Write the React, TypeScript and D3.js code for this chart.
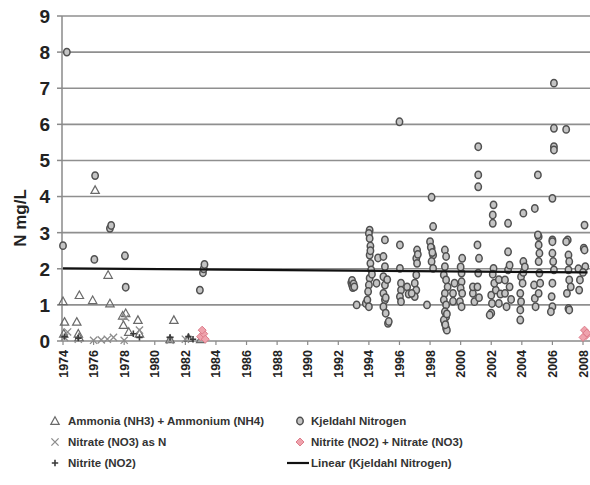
import React from "react";
import * as d3 from "d3";

const yTicks = [0, 1, 2, 3, 4, 5, 6, 7, 8, 9];
const xTickYears = d3.range(1974, 2009, 2);

const kjeldahl: [number, number][] = [
  [1974.0, 2.64], [1974.25, 8.0], [1976.05, 2.26], [1976.1, 4.58], [1977.07, 3.12], [1977.15, 3.2],
  [1978.05, 2.36], [1978.1, 1.49], [1982.95, 1.41], [1983.15, 1.89], [1983.2, 2.0], [1983.25, 2.12],
  [1992.85, 1.62], [1992.9, 1.55], [1992.95, 1.48], [1992.9, 1.68], [1993.0, 1.58], [1993.05, 1.5],
  [1993.2, 1.0], [1993.8, 1.04],
  [1994.05, 3.07], [1994.0, 2.98], [1994.05, 2.84], [1994.1, 2.63], [1994.05, 2.38], [1994.1, 2.15],
  [1994.15, 1.97], [1994.05, 1.74], [1994.0, 1.55], [1993.95, 1.37], [1993.9, 1.14], [1994.0, 0.95],
  [1994.1, 2.5], [1994.2, 1.85], [1994.6, 2.3], [1994.5, 1.6],
  [1995.05, 2.8], [1994.95, 2.34], [1995.05, 2.06], [1994.95, 1.78], [1995.05, 1.55], [1994.95, 1.32],
  [1995.05, 1.14], [1994.95, 0.95], [1995.1, 0.77], [1995.25, 0.49], [1995.3, 0.54], [1995.1, 1.2], [1995.2, 1.7],
  [1996.0, 6.07], [1996.03, 2.66], [1996.03, 2.01], [1996.1, 1.6], [1996.1, 1.41], [1996.03, 1.23], [1996.1, 1.09],
  [1996.5, 1.5], [1996.6, 1.3],
  [1997.15, 2.52], [1997.1, 2.29], [1997.15, 2.15], [1997.1, 1.83], [1997.0, 1.6], [1997.1, 1.41],
  [1997.0, 1.23], [1996.8, 1.32], [1997.2, 2.4], [1997.8, 1.0],
  [1998.1, 3.98], [1998.2, 3.17], [1998.0, 2.75], [1998.1, 2.57], [1998.2, 2.38], [1998.1, 2.2],
  [1998.2, 2.01], [1998.05, 2.6], [1998.15, 2.45],
  [1998.97, 2.52], [1999.05, 2.34], [1998.97, 2.06], [1998.9, 1.83], [1999.05, 1.69], [1999.15, 1.5],
  [1998.97, 1.32], [1998.9, 1.14], [1999.05, 1.0], [1998.97, 0.81], [1999.05, 0.67], [1998.97, 0.49],
  [1999.05, 0.35], [1998.9, 0.58], [1999.1, 0.3], [1999.0, 0.45], [1999.1, 0.75],
  [1999.5, 1.32], [1999.6, 1.6], [1999.5, 1.1],
  [2000.1, 2.29], [2000.06, 1.88], [2000.06, 1.64], [2000.0, 1.46], [2000.1, 1.32], [1999.95, 1.09],
  [2000.06, 0.95], [2000.0, 2.05],
  [2000.8, 1.32], [2000.9, 1.09], [2000.8, 1.5],
  [2001.15, 5.38], [2001.15, 4.6], [2001.15, 4.27], [2001.1, 2.66], [2001.2, 2.29], [2001.15, 1.88],
  [2001.1, 1.5], [2001.2, 1.2],
  [2002.15, 3.77], [2002.1, 3.49], [2002.1, 3.26], [2002.15, 2.01], [2002.0, 1.27], [2002.05, 1.04],
  [2002.0, 0.77], [2001.9, 0.72], [2002.3, 1.41], [2002.2, 1.6], [2002.1, 1.85],
  [2002.5, 1.04], [2002.6, 1.3], [2002.5, 1.7],
  [2003.1, 3.26], [2003.1, 2.47], [2003.1, 1.97], [2002.9, 1.69], [2002.9, 1.32], [2003.0, 0.95],
  [2003.2, 2.1], [2003.2, 1.5], [2003.3, 1.15],
  [2004.1, 3.54], [2004.1, 2.2], [2003.95, 1.78], [2004.05, 1.6], [2003.9, 1.32], [2003.95, 1.09],
  [2003.9, 0.86], [2003.9, 0.58], [2004.1, 1.9], [2004.2, 2.05],
  [2004.85, 3.67], [2004.85, 1.18], [2004.9, 0.95], [2004.8, 1.55],
  [2005.05, 4.6], [2005.1, 2.89], [2005.1, 2.66], [2005.15, 2.43], [2005.1, 2.2], [2005.15, 1.88],
  [2005.2, 1.6], [2005.1, 1.32], [2005.05, 2.94],
  [2006.1, 7.14], [2006.1, 5.89], [2006.1, 5.38], [2006.1, 5.29], [2006.0, 3.95], [2006.0, 2.8],
  [2006.0, 2.43], [2006.05, 2.2], [2006.1, 1.97], [2006.0, 1.6], [2005.95, 1.23], [2006.0, 0.95],
  [2006.0, 2.75], [2005.9, 0.81],
  [2006.9, 5.86], [2007.0, 2.8], [2007.05, 2.38], [2007.1, 2.2], [2007.05, 1.97], [2007.1, 1.69],
  [2006.95, 1.32], [2007.05, 0.9], [2006.9, 2.75], [2007.1, 0.86], [2007.2, 1.5],
  [2007.8, 1.69], [2007.75, 1.41], [2007.7, 2.0],
  [2008.1, 3.21], [2008.05, 2.57], [2008.1, 2.52], [2008.15, 2.06], [2008.0, 1.9]
];

const ammonia: [number, number][] = [
  [1974.0, 1.1], [1974.1, 0.53], [1974.9, 0.53], [1975.07, 1.27], [1975.94, 1.13], [1976.1, 4.18],
  [1977.07, 1.04], [1976.95, 1.83], [1977.95, 0.44], [1978.1, 0.77], [1978.9, 0.58], [1981.25, 0.58],
  [1974.05, 0.2], [1975.0, 0.2], [1975.05, 0.1], [1978.3, 0.25], [1981.0, 0.05], [1982.2, 0.08],
  [1983.0, 0.05], [1977.9, 0.7], [1979.0, 0.2]
];

const nitrate: [number, number][] = [
  [1974.1, 0.1], [1975.0, 0.05], [1976.0, 0.02], [1976.9, 0.05], [1977.3, 0.1], [1978.0, 0.02],
  [1978.1, 0.65], [1979.0, 0.3], [1981.0, 0.02], [1982.0, 0.05], [1974.3, 0.25], [1976.5, 0.03]
];

const nitrite: [number, number][] = [
  [1974.1, 0.12], [1975.0, 0.08], [1978.6, 0.2], [1979.0, 0.1], [1981.0, 0.1], [1982.2, 0.12], [1982.5, 0.05]
];

const nitriteNitrate: [number, number][] = [
  [1983.0, 0.12], [1983.2, 0.2], [1983.3, 0.05], [1983.1, 0.3],
  [2008.1, 0.3], [2008.2, 0.15], [2008.0, 0.1], [2008.25, 0.22]
];

const trendLine: [number, number][] = [[1974, 2.01], [2008.3, 1.9]];

const legendLabels = [
  "Ammonia (NH3) + Ammonium (NH4)",
  "Kjeldahl Nitrogen",
  "Nitrate (NO3) as N",
  "Nitrite (NO2) + Nitrate (NO3)",
  "Nitrite (NO2)",
  "Linear (Kjeldahl Nitrogen)"
];

const W = 590, H = 485;
const x = d3.scaleLinear().domain([1974, 2008]).range([63, 583]);
const y = d3.scaleLinear().domain([0, 9]).range([341, 16]);
const FONT = "'Liberation Sans', Arial, sans-serif";

const CIRCLE_FILL = "#c4c4c4", CIRCLE_STROKE = "#505050";
const TRI_STROKE = "#6a6a6a";
const X_STROKE = "#8c8c8c";
const PLUS_STROKE = "#3a3a3a";
const PINK_FILL = "#efa3ad", PINK_STROKE = "#dd7c8a";

function Tri({ cx, cy }: { cx: number; cy: number }) {
  const s = 4.2;
  return <path d={`M${cx},${cy - s}L${cx + s},${cy + s * 0.8}L${cx - s},${cy + s * 0.8}Z`} fill="white" fillOpacity={0} stroke={TRI_STROKE} strokeWidth={1.2} />;
}
function Cross({ cx, cy }: { cx: number; cy: number }) {
  const s = 3.6;
  return <path d={`M${cx - s},${cy - s}L${cx + s},${cy + s}M${cx - s},${cy + s}L${cx + s},${cy - s}`} stroke={X_STROKE} strokeWidth={1.3} fill="none" />;
}
function Plus({ cx, cy }: { cx: number; cy: number }) {
  const s = 3.2;
  return <path d={`M${cx - s},${cy}L${cx + s},${cy}M${cx},${cy - s}L${cx},${cy + s}`} stroke={PLUS_STROKE} strokeWidth={1.6} fill="none" />;
}
function Circ({ cx, cy }: { cx: number; cy: number }) {
  return <ellipse cx={cx} cy={cy} rx={3.2} ry={3.7} fill={CIRCLE_FILL} stroke={CIRCLE_STROKE} strokeWidth={1.5} />;
}
function Diamond({ cx, cy }: { cx: number; cy: number }) {
  const s = 4;
  return <path d={`M${cx},${cy - s}L${cx + s},${cy}L${cx},${cy + s}L${cx - s},${cy}Z`} fill={PINK_FILL} stroke={PINK_STROKE} strokeWidth={1} />;
}

export default function App() {
  const line = d3.line<[number, number]>().x(d => x(d[0])).y(d => y(d[1]));
  const legendRows = [421, 442, 463];
  const col1 = 55, col2 = 300;
  const legendFont = { fontFamily: FONT, fontWeight: 700, fontSize: 11.5, fill: "#333" } as const;
  return (
    <svg width={W} height={H} style={{ position: "absolute", left: 0, top: 0, background: "white" }}>
      <rect width={W} height={H} fill="white" />
      {yTicks.filter(t => t > 0).map(t => (
        <line key={t} x1={62} x2={590} y1={y(t)} y2={y(t)} stroke="#8f8f8f" strokeWidth={1.6} />
      ))}
      <line x1={62} x2={62} y1={y(9)} y2={y(0)} stroke="#8a8a8a" strokeWidth={1.5} />
      <line x1={62} x2={590} y1={y(0)} y2={y(0)} stroke="#8a8a8a" strokeWidth={1.5} />
      {yTicks.map(t => (
        <g key={t}>
          <line x1={57} x2={62} y1={y(t)} y2={y(t)} stroke="#8a8a8a" strokeWidth={1.5} />
          <text x={50} y={y(t)} dy="0.36em" textAnchor="end" style={{ fontFamily: FONT, fontWeight: 700, fontSize: 19, fill: "#222" }}>{t}</text>
        </g>
      ))}
      {xTickYears.map(t => (
        <g key={t}>
          <line x1={x(t)} x2={x(t)} y1={y(0)} y2={y(0) + 4} stroke="#8a8a8a" strokeWidth={1.2} />
          <text transform={`translate(${x(t)},${y(0) + 9}) rotate(-90)`} dy="0.36em" textAnchor="end" style={{ fontFamily: FONT, fontWeight: 700, fontSize: 12.5, fill: "#222" }}>{t}</text>
        </g>
      ))}
      <text transform={`translate(20,${218}) rotate(-90)`} dy="0.36em" textAnchor="middle" style={{ fontFamily: FONT, fontWeight: 700, fontSize: 17, fill: "#222" }}>N mg/L</text>

      {kjeldahl.map((d, i) => <Circ key={"k" + i} cx={x(d[0])} cy={y(d[1])} />)}
      {ammonia.map((d, i) => <Tri key={"a" + i} cx={x(d[0])} cy={y(d[1])} />)}
      {nitrate.map((d, i) => <Cross key={"n" + i} cx={x(d[0])} cy={y(d[1])} />)}
      {nitrite.map((d, i) => <Plus key={"p" + i} cx={x(d[0])} cy={y(d[1])} />)}
      {nitriteNitrate.map((d, i) => <Diamond key={"d" + i} cx={x(d[0])} cy={y(d[1])} />)}
      <path d={line(trendLine) || ""} stroke="#111" strokeWidth={2.2} fill="none" />

      <Tri cx={col1} cy={legendRows[0]} />
      <text x={68} y={legendRows[0]} dy="0.36em" style={legendFont}>{legendLabels[0]}</text>
      <Circ cx={col2} cy={legendRows[0]} />
      <text x={311} y={legendRows[0]} dy="0.36em" style={legendFont}>{legendLabels[1]}</text>
      <Cross cx={col1} cy={legendRows[1]} />
      <text x={68} y={legendRows[1]} dy="0.36em" style={legendFont}>{legendLabels[2]}</text>
      <Diamond cx={col2} cy={legendRows[1]} />
      <text x={311} y={legendRows[1]} dy="0.36em" style={legendFont}>{legendLabels[3]}</text>
      <Plus cx={col1} cy={legendRows[2]} />
      <text x={68} y={legendRows[2]} dy="0.36em" style={legendFont}>{legendLabels[4]}</text>
      <line x1={287} x2={309} y1={legendRows[2]} y2={legendRows[2]} stroke="#111" strokeWidth={2.2} />
      <text x={311} y={legendRows[2]} dy="0.36em" style={legendFont}>{legendLabels[5]}</text>
    </svg>
  );
}
